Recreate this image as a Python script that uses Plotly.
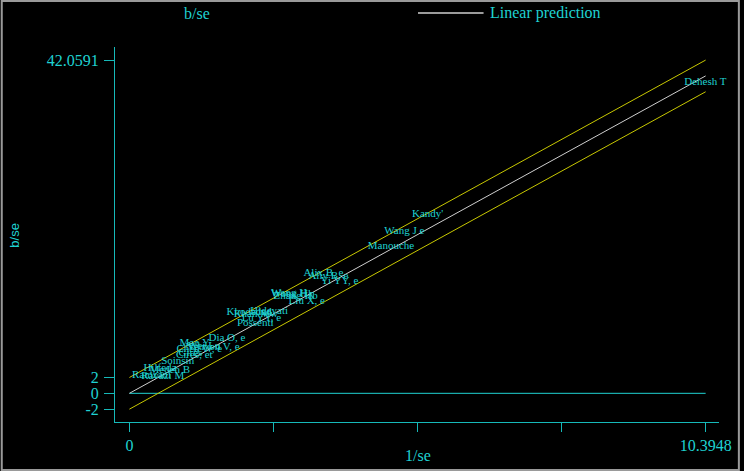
import plotly.graph_objects as go

# ---- data ----
study_labels = [
    "Dehesh T", "Kandy'", "Wang J e", "Manouche",
    "Alix B, e", "Aliy B, e", "Yi YY, e",
    "Wang H", "Wong Hk", "Zhang Hb", "Liu X, e",
    "Khodadad", "Hidayati", "Khan Mw", "Lu YY, e", "Possenti",
    "Dia O, e", "Mao Y", "Wei Lu", "Nguyen V, e", "Chen W, e",
    "Cires, et", "Gires", "Soinsin",
    "Hilfeda", "Medeh B", "Ramzani", "Ravazi M",
]
inv_se = [
    10.39, 5.38, 4.96, 4.72,
    3.50, 3.59, 3.79,
    2.88, 2.94, 3.00, 3.20,
    2.16, 2.52, 2.28, 2.38, 2.27,
    1.76, 1.18, 1.35, 1.50, 1.26,
    1.17, 1.10, 0.87,
    0.55, 0.73, 0.40, 0.60,
]
b_over_se = [
    39.3, 22.6, 20.5, 18.6,
    15.1, 14.8, 14.15,
    12.6, 12.5, 12.3, 11.6,
    10.2, 10.4, 10.0, 9.5, 8.9,
    6.9, 6.35, 6.0, 5.85, 5.6,
    4.8, 5.0, 4.07,
    3.2, 2.95, 2.3, 2.2,
]
x_max = 10.3948
pred_slope = 3.8538          # slope of the linear prediction (b/se per 1/se)
band_halfwidth = 2.0         # +/- 2 bounds
x_tick_vals = [0, x_max / 4, x_max / 2, 3 * x_max / 4, x_max]
x_tick_text = ["0", "", "", "", "10.3948"]
y_tick_vals = [-2, 0, 2, 42.0591]
y_tick_text = ["-2", "0", "2", "42.0591"]

# ---- styling ----
CYAN = "#1fd2d2"
AXC = "#16b9b9"
YEL = "#c8c800"
GRAY = "#cfcfcf"
SERIF = "Liberation Serif, Times New Roman, serif"

W, H = 744, 471
L, R, T, B = 115, 21, 47, 49
PW, PH = W - L - R, H - T - B


def px(xp):
    return (xp - L) / PW


def py(yp):
    return (H - B - yp) / PH


line_x = [0, x_max]
pred_y = [pred_slope * v for v in line_x]

fig = go.Figure()
fig.add_trace(go.Scatter(x=line_x, y=[0, 0], mode="lines",
                         line=dict(color=CYAN, width=1), showlegend=False))
fig.add_trace(go.Scatter(x=line_x, y=[v + band_halfwidth for v in pred_y], mode="lines",
                         line=dict(color=YEL, width=1), showlegend=False))
fig.add_trace(go.Scatter(x=line_x, y=[v - band_halfwidth for v in pred_y], mode="lines",
                         line=dict(color=YEL, width=1), showlegend=False))
fig.add_trace(go.Scatter(x=line_x, y=pred_y, mode="lines",
                         line=dict(color=GRAY, width=1), showlegend=False))
fig.add_trace(go.Scatter(x=inv_se, y=b_over_se, mode="text", text=study_labels,
                         textposition="middle center", cliponaxis=False,
                         textfont=dict(family=SERIF, size=11, color=CYAN),
                         showlegend=False))

axis_common = dict(showgrid=False, zeroline=False, showline=True, linecolor=AXC,
                   linewidth=1, ticks="outside", tickcolor=AXC, tickwidth=1,
                   tickfont=dict(family=SERIF, size=16, color=CYAN))
fig.update_xaxes(range=[-0.26, 10.636], tickmode="array", tickvals=x_tick_vals,
                 ticktext=x_tick_text, ticklen=9, **axis_common)
fig.update_yaxes(range=[-3.62, 43.71], tickmode="array", tickvals=y_tick_vals,
                 ticktext=y_tick_text, ticklen=10, ticklabelstandoff=2, **axis_common)

annotations = [
    dict(text="b/se", x=px(198), y=py(13), font=dict(family=SERIF, size=16, color=CYAN)),
    dict(text="Linear prediction", x=px(490), y=py(13), xanchor="left",
         font=dict(family=SERIF, size=16, color=CYAN)),
    dict(text="1/se", x=px(420), y=py(455), font=dict(family=SERIF, size=16, color=CYAN)),
    dict(text="b/se", x=px(13), y=py(235), textangle=-90,
         font=dict(family="Liberation Sans, Arial, sans-serif", size=13, color=CYAN)),
]
for a in annotations:
    a.update(xref="paper", yref="paper", showarrow=False)
    a.setdefault("xanchor", "center")
    a.setdefault("yanchor", "middle")

shapes = [
    dict(type="line", xref="paper", yref="paper", x0=px(420), x1=px(486),
         y0=py(13), y1=py(13), line=dict(color=GRAY, width=1.5)),
    dict(type="rect", xref="paper", yref="paper", x0=px(1), x1=px(743),
         y0=py(470), y1=py(1), line=dict(color="#9a9a9a", width=2)),
]

fig.update_layout(
    width=W, height=H, margin=dict(l=L, r=R, t=T, b=B),
    paper_bgcolor="black", plot_bgcolor="black",
    showlegend=False, annotations=annotations, shapes=shapes,
)

fig.write_html(
    "out.html",
    config={"displayModeBar": False},
    post_script="document.body.style.margin='0';document.body.style.background='black';",
)
